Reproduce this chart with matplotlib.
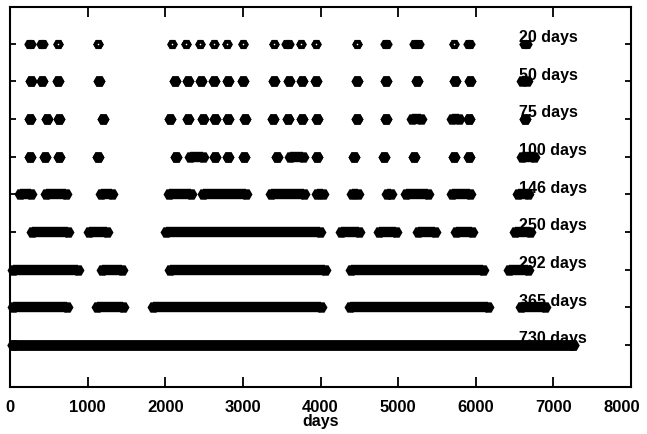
import matplotlib
matplotlib.use("Agg")
import matplotlib.pyplot as plt
from matplotlib.transforms import ScaledTranslation

# Window lengths (one row each, top to bottom) and their vertical levels
window_labels = ["20 days", "50 days", "75 days", "100 days", "146 days",
                 "250 days", "292 days", "365 days", "730 days"]
row_levels = [9, 8, 7, 6, 5, 4, 3, 2, 1]

# Runs of covered days for each window, as (first day, last day)
runs_20d = [(245, 275), (395, 425), (622, 622), (1139, 1139), (2086, 2086),
            (2269, 2269), (2452, 2452), (2625, 2625), (2798, 2798), (3002, 3002),
            (3398, 3398), (3560, 3590), (3750, 3750), (3943, 3943), (4466, 4466),
            (4830, 4862), (5200, 5270), (5718, 5718), (5895, 5925), (6625, 6660)]
runs_50d = [(267, 267), (409, 409), (612, 612), (1150, 1150), (2120, 2120),
            (2292, 2292), (2455, 2455), (2630, 2630), (2810, 2810), (3005, 3005),
            (3405, 3405), (3590, 3590), (3760, 3760), (3945, 3945), (4465, 4465),
            (4850, 4850), (5240, 5240), (5730, 5730), (5925, 5925), (6600, 6660)]
runs_75d = [(252, 252), (475, 475), (628, 628), (1202, 1202), (2067, 2067),
            (2288, 2288), (2487, 2487), (2642, 2642), (2803, 2803), (3023, 3023),
            (3390, 3390), (3583, 3583), (3760, 3760), (3955, 3955), (4468, 4468),
            (4842, 4842), (5185, 5300), (5700, 5780), (5910, 5910), (6640, 6640)]
runs_100d = [(252, 252), (446, 446), (635, 635), (1128, 1128), (2139, 2139),
             (2320, 2490), (2640, 2640), (2808, 2808), (3015, 3015), (3435, 3435),
             (3610, 3780), (3950, 3950), (4433, 4433), (4820, 4820), (5206, 5206),
             (5720, 5720), (5915, 5915), (6600, 6755)]
runs_146d = [(130, 265), (465, 715), (1173, 1308), (2050, 2326), (2487, 3041),
             (3363, 3789), (3956, 4030), (4407, 4480), (4851, 4910), (5103, 5380),
             (5690, 5928), (6546, 6675)]
runs_250d = [(282, 749), (1020, 1248), (2010, 3995), (4265, 4490), (4760, 4975),
             (5250, 5470), (5748, 5954), (6500, 6700)]
runs_292d = [(40, 870), (1186, 1443), (2062, 4059), (4394, 6095), (6430, 6670)]
runs_365d = [(39, 735), (1121, 1456), (1843, 4008), (4381, 6160), (6585, 6895)]
runs_730d = [(39, 7255)]

all_runs = [runs_20d, runs_50d, runs_75d, runs_100d, runs_146d,
            runs_250d, runs_292d, runs_365d, runs_730d]

x_ticks = [0, 1000, 2000, 3000, 4000, 5000, 6000, 7000, 8000]

DPI = 100
PX = 72.0 / DPI          # points per pixel

fig = plt.figure(figsize=(6.47, 4.35), dpi=DPI)
ax = fig.add_axes([10 / 647, 47 / 435, 621 / 647, 380 / 435])

font = {"family": ["Liberation Sans", "DejaVu Sans"], "weight": "bold"}

for i, (level, runs) in enumerate(zip(row_levels, all_runs)):
    width_px = 10.5 if i == 0 else (12.5 if i == len(all_runs) - 1 else 12)
    ms = width_px * PX
    for start, end in runs:
        ax.plot([start, end], [level, level], color="black",
                lw=0.866 * ms, solid_capstyle="butt",
                marker="H", ms=ms, mew=0, mfc="black", clip_on=False)
        if i == 0 and start == end:
            # single isolated sample: open-centred marker
            ax.plot([start], [level], marker="o", ms=1.6 * PX, mew=0,
                    mfc="white", ls="none", clip_on=False)

for level, text in zip(row_levels, window_labels):
    ax.text(6560, level + 0.07, text, ha="left", va="baseline",
            fontsize=11.5, **font)

ax.set_xlim(0, 8000)
ax.set_ylim(-0.12, 9.98)
ax.set_xticks(x_ticks)
ax.set_xticklabels([str(t) for t in x_ticks], fontsize=12, **font)
ax.set_yticks(row_levels)
ax.set_yticklabels([])
ax.tick_params(axis="x", direction="in", length=7, width=1.3,
               top=True, bottom=True, pad=9)
ax.tick_params(axis="y", direction="in", length=4.5, width=1.3,
               left=True, right=True)
ax.set_xlabel("days", fontsize=11.5, labelpad=-1, **font)

# keep the last tick label inside the figure
last = ax.get_xticklabels()[-1]
last.set_transform(last.get_transform()
                   + ScaledTranslation(-9 / DPI, 0, fig.dpi_scale_trans))

for sp in ax.spines.values():
    sp.set_linewidth(1.5)

fig.savefig("out.png", dpi=DPI)
